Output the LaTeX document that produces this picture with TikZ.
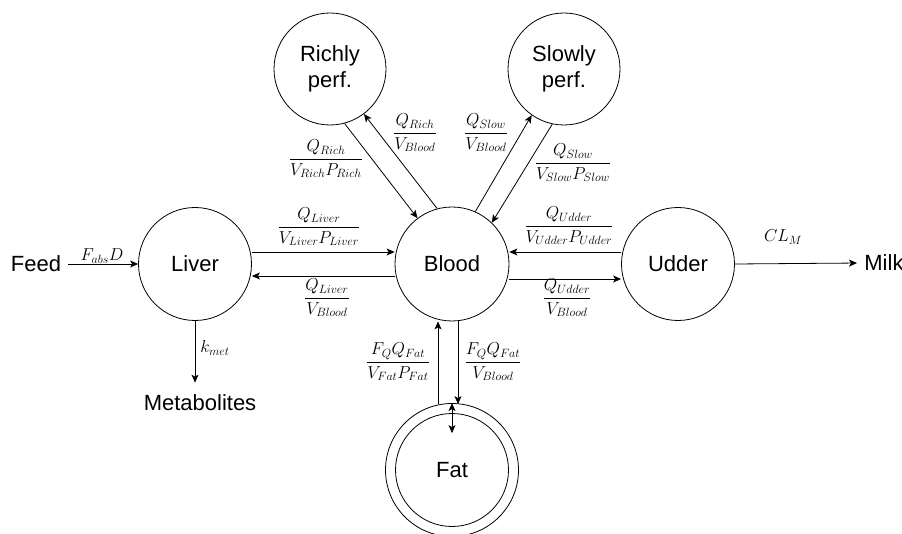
\documentclass[tikz,border=0pt]{standalone}
\usepackage{fontspec}
\setmainfont{Liberation Sans}
\usetikzlibrary{arrows.meta,calc}
\begin{document}
\begin{tikzpicture}[x=1pt,y=1pt,
  line width=0.8pt,
  comp/.style={circle,draw,inner sep=0pt,align=center,font=\fontsize{22}{26.5}\selectfont},
  txt/.style={inner sep=0pt,font=\fontsize{22}{26.5}\selectfont},
  lbl/.style={inner sep=0pt,anchor=base,font=\fontsize{18}{22}\selectfont},
  arr/.style={-{Stealth[length=8pt,width=7pt,inset=2pt]}},
  darr/.style={{Stealth[length=8pt,width=7pt,inset=2pt]}-{Stealth[length=8pt,width=7pt,inset=2pt]}}
]
\useasboundingbox (0,0) rectangle (902,-534);
% compartments
\node[comp,minimum size=113] (liver) at (195,-264) {Liver};
\node[comp,minimum size=114] (blood) at (452,-264) {Blood};
\node[comp,minimum size=113] (udder) at (678,-264) {Udder};
\node[comp,minimum size=112] (rich) at (330,-69) {Richly\\perf.};
\node[comp,minimum size=112] (slow) at (564,-69) {Slowly\\perf.};
\node[circle,draw,inner sep=0pt,minimum size=133] (fatout) at (452,-470) {};
\node[comp,minimum size=113] (fat) at (452,-470) {Fat};
% plain texts
\node[txt] (feed) at (36,-264) {Feed};
\node[txt,anchor=base west] (milk) at (864,-271) {Milk};
\node[txt,anchor=base] (metab) at (200,-410) {Metabolites};
% connectors
\draw[arr] (feed.east) ++(7,0) coordinate (fs) (fs) -- (liver.west);
\draw[arr] (udder.east) -- ([xshift=-7pt]milk.west);
\draw[arr] (liver.south) -- ([yshift=11pt]liver.south |- metab.north);
\draw[arr] ($(liver.east)+(0,12)$) -- ($(blood.west)+(0,12)$);
\draw[arr] ($(blood.west)+(0,-12)$) -- ($(liver.east)+(0,-12)$);
\draw[arr] ($(udder.west)+(0,12)$) -- ($(blood.east)+(0,12)$);
\draw[arr] ($(blood.east)+(0,-15)$) -- ($(udder.west)+(0,-15)$);
\draw[arr] (rich.-75) -- (blood.127);
\draw[arr] (blood.105) -- (rich.-53);
\draw[arr] (blood.66) -- (slow.-125);
\draw[arr] (slow.-102) -- (blood.46);
\draw[arr] ($(fatout.north)+(-14,-1)$) -- ($(blood.south)+(-14,0)$);
\draw[arr] ($(blood.south)+(6,0)$) -- ($(fatout.north)+(6,-1)$);
\draw[darr] (fatout.north) -- ($(fat.north)+(0,-20)$);
% labels
\node[lbl] (lfabs) at (102,-261) {$F_{abs}D$};
\node[lbl] (lkmet) at (215,-353) {$k_{met}$};
\node[lbl] (lclm) at (783,-242) {$CL_M$};
\node[lbl] (fl1) at (319,-231.5) {$\displaystyle\frac{Q_{Liver}}{V_{Liver}P_{Liver}}$};
\node[lbl] (fl2) at (327,-302.5) {$\displaystyle\frac{Q_{Liver}}{V_{Blood}}$};
\node[lbl] (fu1) at (569,-230.5) {$\displaystyle\frac{Q_{Udder}}{V_{Udder}P_{Udder}}$};
\node[lbl] (fu2) at (567,-302.5) {$\displaystyle\frac{Q_{Udder}}{V_{Blood}}$};
\node[lbl] (fr1) at (415,-137.5) {$\displaystyle\frac{Q_{Rich}}{V_{Blood}}$};
\node[lbl] (fr2) at (326,-163.5) {$\displaystyle\frac{Q_{Rich}}{V_{Rich}P_{Rich}}$};
\node[lbl] (fs1) at (486,-137.5) {$\displaystyle\frac{Q_{Slow}}{V_{Blood}}$};
\node[lbl] (fs2) at (573,-167.5) {$\displaystyle\frac{Q_{Slow}}{V_{Slow}P_{Slow}}$};
\node[lbl] (ff1) at (398,-366.5) {$\displaystyle\frac{F_QQ_{Fat}}{V_{Fat}P_{Fat}}$};
\node[lbl] (ff2) at (493,-366.5) {$\displaystyle\frac{F_QQ_{Fat}}{V_{Blood}}$};
\end{tikzpicture}
\end{document}
